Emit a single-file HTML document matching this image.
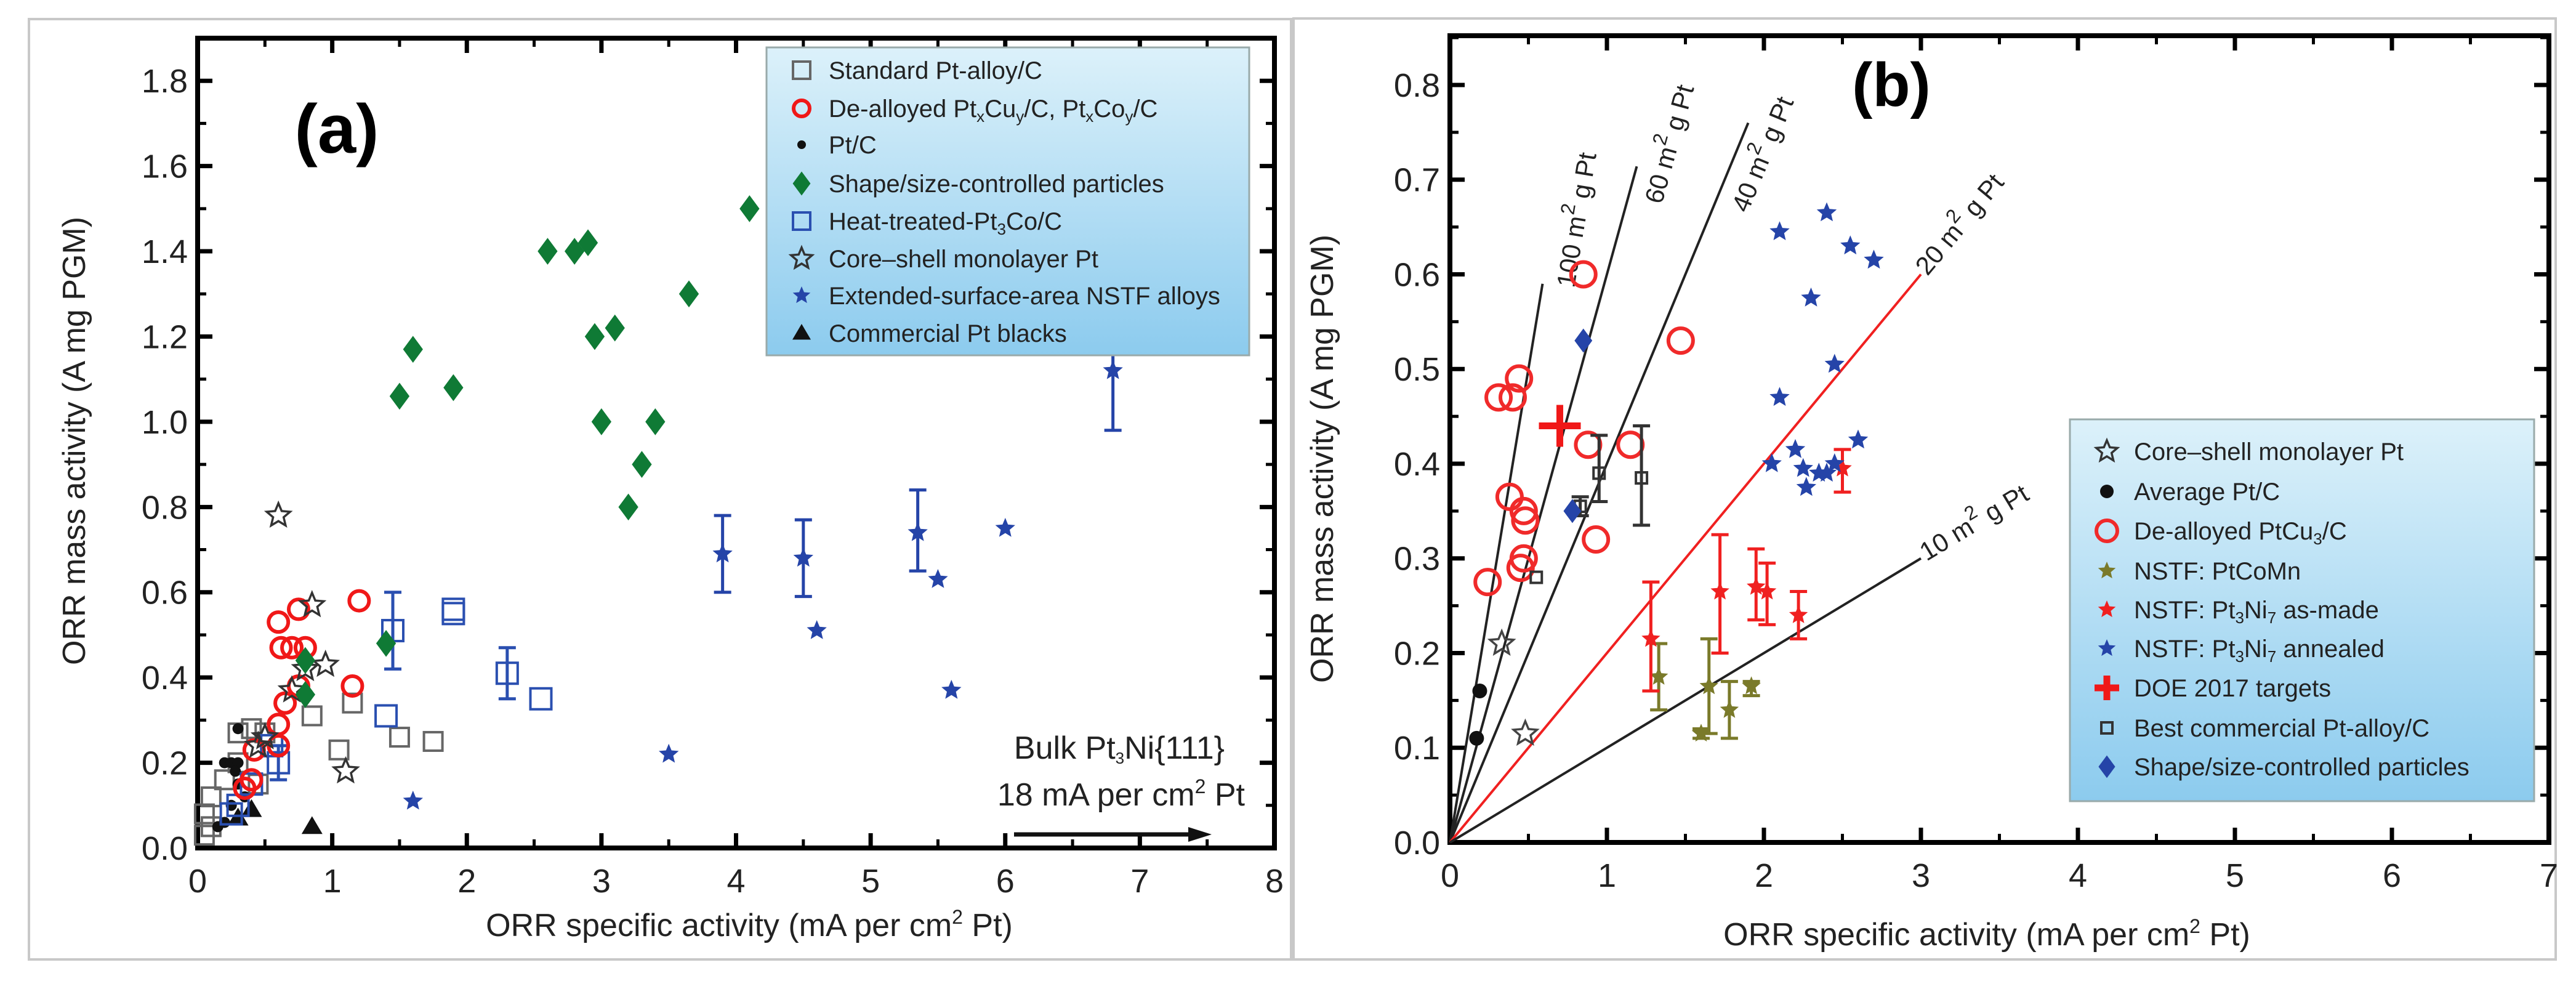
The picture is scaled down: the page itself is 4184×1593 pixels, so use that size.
<!DOCTYPE html>
<html><head><meta charset="utf-8"><style>
html,body{margin:0;padding:0;background:#fff;}
svg{display:block;font-family:"Liberation Sans",sans-serif;}
</style></head><body>
<svg id="fig" width="4184" height="1593" viewBox="0 0 4184 1593" xmlns="http://www.w3.org/2000/svg">
<defs>
<linearGradient id="lg" x1="0" y1="0" x2="0" y2="1"><stop offset="0" stop-color="#dcf1fa"/><stop offset="1" stop-color="#8ccbee"/></linearGradient>
</defs>
<rect x="47" y="31" width="2050" height="1527" fill="none" stroke="#c8c8c8" stroke-width="4"/>
<rect x="2101" y="30" width="2050" height="1528" fill="none" stroke="#c8c8c8" stroke-width="4"/>
<g id="gA"></g>
<g id="gB"></g>
</svg>
<script>
// ---------- Panel (a) data ----------
const aXTicks = [0,1,2,3,4,5,6,7,8];
const aYTicks = [0.0,0.2,0.4,0.6,0.8,1.0,1.2,1.4,1.6,1.8];
const aShapeX = [1.5,1.6,1.9,2.6,2.8,2.9,2.95,3.1,3.0,3.4,3.3,3.2,3.65,4.1,1.4,0.8,0.8];
const aShapeY = [1.06,1.17,1.08,1.40,1.40,1.42,1.20,1.22,1.00,1.00,0.90,0.80,1.30,1.50,0.48,0.44,0.36];
const aNstfX = [3.9,4.5,5.35,6.8,6.0,5.5,4.6,5.6,3.5,1.6];
const aNstfY = [0.69,0.68,0.74,1.12,0.75,0.63,0.51,0.37,0.22,0.11];
const aNstfLo = [0.60,0.59,0.65,0.98,null,null,null,null,null,null];
const aNstfHi = [0.78,0.77,0.84,1.26,null,null,null,null,null,null];
const aHeatX = [1.45,1.9,1.9,2.3,2.55,1.4,0.6,0.55,0.4,0.3,0.25];
const aHeatY = [0.51,0.56,0.55,0.41,0.35,0.31,0.20,0.24,0.15,0.10,0.08];
const aHeatLo = [0.42,null,null,0.35,null,null,0.16,null,null,null,null];
const aHeatHi = [0.60,null,null,0.47,null,null,0.24,null,null,null,null];
const aDealX = [0.6,0.75,1.2,0.62,0.7,0.8,0.65,0.75,0.6,0.6,0.42,1.15,0.4,0.35];
const aDealY = [0.53,0.56,0.58,0.47,0.47,0.47,0.34,0.38,0.29,0.24,0.23,0.38,0.16,0.14];
const aStdX = [0.85,1.15,1.05,1.5,1.75,0.4,0.5,0.3,0.45,0.2,0.1,0.05,0.1,0.05,0.3];
const aStdY = [0.31,0.34,0.23,0.26,0.25,0.28,0.27,0.20,0.15,0.16,0.12,0.08,0.05,0.03,0.27];
const aCoreX = [0.6,0.85,0.95,0.8,0.7,1.1,0.5,0.45];
const aCoreY = [0.78,0.57,0.43,0.42,0.37,0.18,0.26,0.24];
const aPtcX = [0.3,0.2,0.25,0.3,0.3,0.25,0.2,0.15,0.35,0.28];
const aPtcY = [0.28,0.2,0.2,0.2,0.15,0.1,0.06,0.05,0.12,0.18];
const aBlackX = [0.85,0.4,0.3];
const aBlackY = [0.05,0.09,0.07];

// ---------- Panel (b) data ----------
const bXTicks = [0,1,2,3,4,5,6,7];
const bYTicks = [0.0,0.1,0.2,0.3,0.4,0.5,0.6,0.7,0.8];
const bLineSlopes = [1.0,0.6,0.4,0.2,0.1];
const bLineEndX = [0.59,1.19,1.9,3.0,3.0];
const bLineLabels = ["100","60","40","20","10"];
const bCoreX = [0.33,0.48];
const bCoreY = [0.21,0.115];
const bPtcX = [0.19,0.17];
const bPtcY = [0.16,0.11];
const bDealX = [0.85,1.47,0.44,0.31,0.4,0.88,1.15,0.38,0.47,0.48,0.47,0.45,0.24,0.93];
const bDealY = [0.60,0.53,0.49,0.47,0.47,0.42,0.42,0.365,0.35,0.34,0.30,0.29,0.275,0.32];
const bCoMnX = [1.33,1.65,1.78,1.92,1.6];
const bCoMnY = [0.175,0.165,0.14,0.165,0.115];
const bCoMnLo = [0.14,0.115,0.11,0.155,0.11];
const bCoMnHi = [0.21,0.215,0.17,0.17,0.12];
const bMadeX = [1.28,1.72,1.95,2.02,2.22,2.5];
const bMadeY = [0.215,0.265,0.27,0.265,0.24,0.395];
const bMadeLo = [0.16,0.20,0.235,0.23,0.215,0.37];
const bMadeHi = [0.275,0.325,0.31,0.295,0.265,0.415];
const bAnnX = [2.1,2.4,2.55,2.7,2.3,2.45,2.1,2.05,2.2,2.25,2.35,2.4,2.45,2.6,2.27];
const bAnnY = [0.645,0.665,0.63,0.615,0.575,0.505,0.47,0.40,0.415,0.395,0.39,0.39,0.40,0.425,0.375];
const bDoeX = [0.7];
const bDoeY = [0.44];
const bBestX = [0.55,0.83,0.95,1.22];
const bBestY = [0.28,0.355,0.39,0.385];
const bBestLo = [null,0.345,0.36,0.335];
const bBestHi = [null,0.365,0.43,0.44];
const bShapeX = [0.85,0.78];
const bShapeY = [0.53,0.35];

const NS = "http://www.w3.org/2000/svg";
function mk(parent, tag, attrs){const e=document.createElementNS(NS,tag);for(const k in attrs)e.setAttribute(k,attrs[k]);parent.appendChild(e);return e;}
function scale(d0,d1,p0,p1){return v=>p0+(v-d0)/(d1-d0)*(p1-p0);}
function starPts(cx,cy,R,r){let p=[];for(let i=0;i<10;i++){const a=-Math.PI/2+i*Math.PI/5;const rr=i%2?r:R;p.push((cx+rr*Math.cos(a)).toFixed(1)+","+(cy+rr*Math.sin(a)).toFixed(1));}return p.join(" ");}
function marker(g,type,x,y,s,color){
  let e;
  if(type==='sq') e=mk(g,'rect',{x:x-s,y:y-s,width:2*s,height:2*s,fill:'none',stroke:color,'stroke-width':4});
  else if(type==='circ') e=mk(g,'circle',{cx:x,cy:y,r:s,fill:'none',stroke:color,'stroke-width':6});
  else if(type==='dot') e=mk(g,'circle',{cx:x,cy:y,r:s,fill:color});
  else if(type==='dia') e=mk(g,'polygon',{points:`${x},${y-s*1.15} ${x+s*0.85},${y} ${x},${y+s*1.15} ${x-s*0.85},${y}`,fill:color});
  else if(type==='ostar') e=mk(g,'polygon',{points:starPts(x,y,s,s*0.45),fill:'none',stroke:color,'stroke-width':3.5});
  else if(type==='star') e=mk(g,'polygon',{points:starPts(x,y,s,s*0.45),fill:color});
  else if(type==='tri') e=mk(g,'polygon',{points:`${x},${y-s} ${x+s},${y+s*0.7} ${x-s},${y+s*0.7}`,fill:color});
  else if(type==='cross'){e=mk(g,'path',{d:`M${x-s} ${y}H${x+s}M${x} ${y-s}V${y+s}`,stroke:color,'stroke-width':11,fill:'none'});}
  return e;
}
function errbar(g,x,ylo,yhi,color,w){
  const e=mk(g,'path',{d:`M${x} ${ylo}V${yhi}M${x-w} ${ylo}H${x+w}M${x-w} ${yhi}H${x+w}`,stroke:color,'stroke-width':5,fill:'none'});
  
  
}
function series(g,name,xs,ys,X,Y,type,s,color,lo,hi){
  const sg=mk(g,'g',{});
  
  
  for(let i=0;i<xs.length;i++){
    if(lo&&lo[i]!=null) errbar(sg,X(xs[i]),Y(lo[i]),Y(hi[i]),color,14);
    const m=marker(sg,type,X(xs[i]),Y(ys[i]),s,color);
    
    
  }
}
function txt(g,x,y,str,attrs){const t=mk(g,'text',Object.assign({x:x,y:y},attrs||{}));t.innerHTML=str;return t;}

function axes(g,L,R,T,B,X,Y,xt,yt,xminor,yminor){
  const f=mk(g,'rect',{x:L,y:T,width:R-L,height:B-T,fill:'none',stroke:'#000','stroke-width':8});
  
  
  let d='';
  xminor.forEach(v=>{const x=X(v);d+=`M${x} ${B}v-14M${x} ${T}v14`;});
  yminor.forEach(v=>{const y=Y(v);d+=`M${L} ${y}h14M${R} ${y}h-14`;});
  mk(g,'path',{d:d,stroke:'#000','stroke-width':5});
  d='';
  xt.forEach(v=>{const x=X(v);d+=`M${x} ${B}v-24M${x} ${T}v24`;});
  yt.forEach(v=>{const y=Y(v);d+=`M${L} ${y}h24M${R} ${y}h-24`;});
  mk(g,'path',{d:d,stroke:'#000','stroke-width':7});
  xt.forEach(v=>{const t=txt(g,X(v),B+72,String(v),{'font-size':54,'text-anchor':'middle',fill:'#222'});
    
    });
  yt.forEach(v=>{const t=txt(g,L-16,Y(v)+19,v.toFixed(1),{'font-size':54,'text-anchor':'end',fill:'#222'});
    
    });
}
function legend(g,x,y,w,h,items,x0,rowY){
  const r=mk(g,'rect',{x:x,y:y,width:w,height:h,fill:'url(#lg)',stroke:'#9aa','stroke-width':3});
  
  
  items.forEach((it,i)=>{
    const yy=rowY[i];
    const m=marker(g,it[0],x0,yy,it[1],it[2]);
    
    
    const t=txt(g,x0+44,yy+14,it[3],{'font-size':40,fill:'#222'});
    
    
  });
}
const sub=s=>`<tspan font-size="26" baseline-shift="-8">${s}</tspan>`;
const sup=s=>`<tspan font-size="32" baseline-shift="20">${s}</tspan>`;

// ---------- Panel A ----------
(function(){
  const g=document.getElementById('gA');
  const L=321,R=2070,T=62,B=1377;
  const X=scale(0,8,L,R), Y=scale(0,1.9,B,T);
  const xm=[];for(let v=0.5;v<8;v+=1)xm.push(v);
  const ym=[];for(let v=0.1;v<1.9;v+=0.2)ym.push(v);
  axes(g,L,R,T,B,X,Y,aXTicks,aYTicks,xm,ym);
  const xt=txt(g,1217,1520,'ORR specific activity (mA per cm'+sup('2')+' Pt)',{'font-size':52,'text-anchor':'middle',fill:'#222'});
  
  
  const yt=txt(g,0,0,'ORR mass activity (A mg PGM)',{'font-size':52,'text-anchor':'middle',fill:'#222',transform:'translate(138,716) rotate(-90)'});
  
  
  const pl=txt(g,547,248,'(a)',{'font-size':112,'font-weight':'bold','text-anchor':'middle',fill:'#000'});
  
  
  series(g,'standard-pt-alloy',aStdX,aStdY,X,Y,'sq',15,'#666');
  series(g,'pt-c',aPtcX,aPtcY,X,Y,'dot',9,'#111');
  series(g,'commercial-pt-black',aBlackX,aBlackY,X,Y,'tri',17,'#111');
  series(g,'heat-treated-pt3co',aHeatX,aHeatY,X,Y,'sq',17,'#2a4fb0',aHeatLo,aHeatHi);
  series(g,'de-alloyed',aDealX,aDealY,X,Y,'circ',16,'#f01818');
  series(g,'core-shell',aCoreX,aCoreY,X,Y,'ostar',20,'#333');
  series(g,'shape-controlled',aShapeX,aShapeY,X,Y,'dia',19,'#0f7a35');
  series(g,'nstf-alloys',aNstfX,aNstfY,X,Y,'star',17,'#2544a8',aNstfLo,aNstfHi);
  const items=[['sq',14,'#666','Standard Pt-alloy/C'],['circ',13,'#f01818','De-alloyed Pt'+sub('x')+'Cu'+sub('y')+'/C, Pt'+sub('x')+'Co'+sub('y')+'/C'],['dot',7,'#111','Pt/C'],['dia',17,'#0f7a35','Shape/size-controlled particles'],['sq',14,'#2a4fb0','Heat-treated-Pt'+sub('3')+'Co/C'],['ostar',18,'#333','Core–shell monolayer Pt'],['star',15,'#2544a8','Extended-surface-area NSTF alloys'],['tri',15,'#111','Commercial Pt blacks']];
  legend(g,1245,77,784,500,items,1302,[114,176,235,298,359,420,480,541]);
  const b1=txt(g,1989,1232,'Bulk Pt'+sub('3')+'Ni{111}',{'font-size':52,'text-anchor':'end',fill:'#222'});
  
  
  const b2=txt(g,2022,1308,'18 mA per cm'+sup('2')+' Pt',{'font-size':52,'text-anchor':'end',fill:'#222'});
  
  
  const ar=mk(g,'path',{d:'M1647 1355H1940',stroke:'#111','stroke-width':7});
  
  
  const ah=mk(g,'polygon',{points:'1930,1343 1968,1355 1930,1367',fill:'#111'});
  
  
})();

// ---------- Panel B ----------
(function(){
  const g=document.getElementById('gB');
  const L=2355,R=4140,T=58,B=1368;
  const X=scale(0,7,L,R), Y=scale(0,0.852,B,T);
  const xm=[];for(let v=0.5;v<7;v+=1)xm.push(v);
  const ym=[];for(let v=0.05;v<0.85;v+=0.1)ym.push(v);
  axes(g,L,R,T,B,X,Y,bXTicks,bYTicks,xm,ym);
  const labStartFrac=[1.0,0.955,0.89,1.0,1.0];
  const labPerp=[46,50,50,6,6];
  bLineSlopes.forEach((s,i)=>{
    const ex=bLineEndX[i], ey=s*ex;
    const col=i===3?'#f02020':'#222';
    const ln=mk(g,'line',{x1:X(0),y1:Y(0),x2:X(ex),y2:Y(ey),stroke:col,'stroke-width':4});
    
    
    const dx=X(ex)-X(0), dy=Y(ey)-Y(0), len=Math.hypot(dx,dy);
    const ang=Math.atan2(dy,dx)*180/Math.PI;
    const f=labStartFrac[i];
    const lx=X(0)+dx*f+(-dy/len)*labPerp[i]+6, ly=Y(0)+dy*f+(dx/len)*labPerp[i];
    const t=txt(g,lx,ly,bLineLabels[i]+' m'+sup('2')+' g Pt',{'font-size':42,fill:'#222',transform:`rotate(${ang.toFixed(1)} ${lx} ${ly})`});
    
    
  });
  const xt=txt(g,3227,1535,'ORR specific activity (mA per cm'+sup('2')+' Pt)',{'font-size':52,'text-anchor':'middle',fill:'#222'});
  
  
  const yt=txt(g,0,0,'ORR mass activity (A mg PGM)',{'font-size':52,'text-anchor':'middle',fill:'#222',transform:'translate(2165,745) rotate(-90)'});
  
  
  const pl=txt(g,3072,172,'(b)',{'font-size':100,'font-weight':'bold','text-anchor':'middle',fill:'#000'});
  
  
  series(g,'core-shell',bCoreX,bCoreY,X,Y,'ostar',20,'#444');
  series(g,'average-pt-c',bPtcX,bPtcY,X,Y,'dot',12,'#111');
  series(g,'de-alloyed-ptcu3',bDealX,bDealY,X,Y,'circ',20,'#f02a2a');
  series(g,'nstf-ptcomn',bCoMnX,bCoMnY,X,Y,'star',16,'#7a7a2a',bCoMnLo,bCoMnHi);
  series(g,'nstf-pt3ni7-as-made',bMadeX,bMadeY,X,Y,'star',16,'#f02020',bMadeLo,bMadeHi);
  series(g,'nstf-pt3ni7-annealed',bAnnX,bAnnY,X,Y,'star',17,'#2544a8');
  series(g,'best-commercial',bBestX,bBestY,X,Y,'sq',9,'#333',bBestLo,bBestHi);
  series(g,'shape-controlled',bShapeX,bShapeY,X,Y,'dia',17,'#2544a8');
  series(g,'doe-2017-target',bDoeX,bDoeY,X,Y,'cross',34,'#f01818');
  const items=[['ostar',18,'#333','Core–shell monolayer Pt'],['dot',11,'#111','Average Pt/C'],['circ',17,'#f02a2a','De-alloyed PtCu'+sub('3')+'/C'],['star',15,'#7a7a2a','NSTF: PtCoMn'],['star',15,'#f02020','NSTF: Pt'+sub('3')+'Ni'+sub('7')+' as-made'],['star',15,'#2544a8','NSTF: Pt'+sub('3')+'Ni'+sub('7')+' annealed'],['cross',20,'#f01818','DOE 2017 targets'],['sq',9,'#333','Best commercial Pt-alloy/C'],['dia',16,'#2544a8','Shape/size-controlled particles']];
  legend(g,3362,681,754,620,items,3422,[733,798,862,927,990,1053,1117,1182,1245]);
})();
</script>
</body></html>
